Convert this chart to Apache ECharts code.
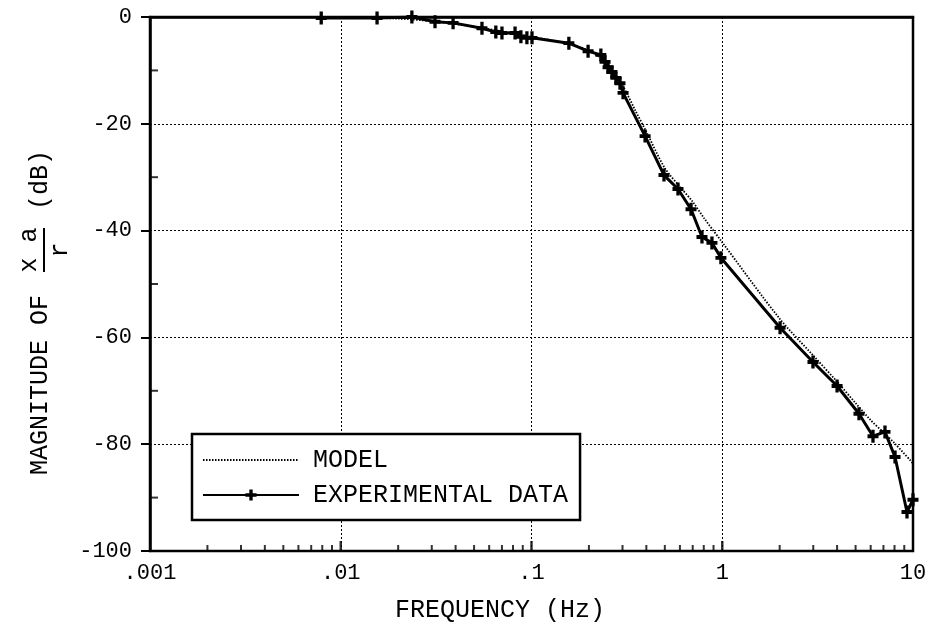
<!DOCTYPE html>
<html>
<head>
<meta charset="utf-8">
<script src="https://cdn.jsdelivr.net/npm/echarts@6/dist/echarts.min.js"></script>
<style>html,body{margin:0;padding:0;background:#fff}#c{width:938px;height:638px}</style>
</head>
<body>
<div id="c"></div>
<script>
// ---- data ----
const xTickLabels = ['.001', '.01', '.1', '1', '10'];
const yTicks = [0, -20, -40, -60, -80, -100];

const freqExp = [0.0079, 0.0155, 0.0236, 0.0312, 0.0388, 0.055, 0.065, 0.070, 0.082, 0.088, 0.0946, 0.1006,
  0.157, 0.198, 0.231, 0.243, 0.252, 0.264, 0.277, 0.291, 0.302, 0.394, 0.495, 0.586, 0.686, 0.783, 0.883,
  0.984, 2.01, 2.99, 4.0, 5.21, 6.17, 7.13, 8.05, 9.3, 10];
const magExp = [-0.2, -0.2, 0, -0.9, -1.1, -2.1, -2.8, -3.0, -3.0, -3.7, -3.9, -3.9,
  -4.9, -6.4, -7.1, -8.4, -9.4, -10.3, -11.4, -12.4, -14.2, -22.3, -29.6, -32.2, -36.0, -41.2, -42.3,
  -45.1, -58.2, -64.6, -69.1, -74.3, -78.5, -77.7, -82.4, -92.7, -90.4];

const freqModel = [0.0078, 0.02, 0.03, 0.05, 0.07, 0.1, 0.15, 0.2, 0.25, 0.3, 0.35, 0.4, 0.5, 0.6, 0.7, 0.8, 1,
  2, 3, 4, 5, 6, 7, 8, 10];
const magModel = [0, -0.3, -0.8, -1.8, -2.7, -3.7, -4.9, -6.3, -8.8, -12.8, -17.5, -21.5, -28.3, -31.8, -34.6,
  -37.6, -42.2, -56.5, -63.4, -68.3, -72.3, -75.5, -77.8, -79.8, -83.6];

const xMinorTicks = [2, 3, 4, 5, 6, 7, 8, 9];
const xDecades = [0.001, 0.01, 0.1, 1];
const yMinorTicks = [-10, -30, -50, -70, -90];

// ---- build ----
const FONT = '"Liberation Mono", "DejaVu Sans Mono", monospace';
const expData = freqExp.map((f, i) => [f, magExp[i]]);
const modelData = freqModel.map((f, i) => [f, magModel[i]]);
const xMinorData = [];
xDecades.forEach(d => xMinorTicks.forEach(m => xMinorData.push([d * m, -100])));
const yMinorData = yMinorTicks.map(v => [0.001, v]);
const xMajorData = xDecades.slice(1).map(d => [d, -100]);

const plusPath = 'path://M3.5,0 L6.5,0 L6.5,3.5 L10,3.5 L10,6.5 L6.5,6.5 L6.5,10 L3.5,10 L3.5,6.5 L0,6.5 L0,3.5 L3.5,3.5 Z';

const chart = echarts.init(document.getElementById('c'), null, { renderer: 'canvas' });
chart.setOption({
  animation: false,
  backgroundColor: '#fff',
  grid: { left: 150, right: 25, top: 17, bottom: 87, show: true, borderColor: '#000', borderWidth: 2.5, backgroundColor: 'transparent' },
  xAxis: {
    type: 'log', logBase: 10, min: 0.001, max: 10,
    axisLine: { lineStyle: { color: '#000', width: 2.5 } },
    axisTick: { show: false },
    axisLabel: {
      color: '#000', fontFamily: FONT, fontSize: 22, margin: 11,
      formatter: v => xTickLabels[Math.round(Math.log10(v)) + 3]
    },
    splitLine: { show: true, lineStyle: { color: '#000', type: [2, 2], width: 1 } }
  },
  yAxis: {
    type: 'value', min: -100, max: 0, interval: 20,
    axisLine: { show: true, lineStyle: { color: '#000', width: 2.5 } },
    axisTick: { show: true, inside: false, length: 9, lineStyle: { color: '#000', width: 2 } },
    axisLabel: { color: '#000', fontFamily: FONT, fontSize: 22, margin: 18,
      formatter: v => String(v) },
    splitLine: { show: true, lineStyle: { color: '#000', type: [2, 2], width: 1 } }
  },
  legend: {
    data: [{ name: 'MODEL', itemStyle: { opacity: 0 } }, { name: 'EXPERIMENTAL DATA' }],
    orient: 'vertical', left: 192, top: 434,
    backgroundColor: '#fff', borderColor: '#000', borderWidth: 2.5, borderRadius: 0,
    padding: [12, 12, 11, 10], itemWidth: 96, itemHeight: 14, itemGap: 7,
    textStyle: { color: '#000', fontFamily: FONT, fontSize: 25, lineHeight: 28, padding: [0, 0, 0, 9] },
    z: 10
  },
  graphic: [
    { type: 'text', x: 500, y: 610,
      style: { text: 'FREQUENCY (Hz)', font: '25px ' + FONT, align: 'center', verticalAlign: 'middle', fill: '#000' } },
    { type: 'text', x: 40, y: 385, rotation: Math.PI / 2,
      style: { text: 'MAGNITUDE OF', font: '25px ' + FONT, align: 'center', verticalAlign: 'middle', fill: '#000' } },
    { type: 'line', shape: { x1: 44, y1: 272, x2: 44, y2: 228 }, style: { stroke: '#000', lineWidth: 2 } },
    { type: 'text', x: 29, y: 250, rotation: Math.PI / 2,
      style: { text: 'x a', font: '25px ' + FONT, align: 'center', verticalAlign: 'middle', fill: '#000' } },
    { type: 'text', x: 60, y: 250, rotation: Math.PI / 2,
      style: { text: 'r', font: '25px ' + FONT, align: 'center', verticalAlign: 'middle', fill: '#000' } },
    { type: 'text', x: 40, y: 180, rotation: Math.PI / 2,
      style: { text: '(dB)', font: '25px ' + FONT, align: 'center', verticalAlign: 'middle', fill: '#000' } }
  ],
  series: [
    {
      name: 'EXPERIMENTAL DATA', type: 'line', data: expData,
      symbol: plusPath, symbolSize: [11, 13], showAllSymbol: true,
      lineStyle: { color: '#000', width: 3 }, itemStyle: { color: '#000' },
      z: 3
    },
    {
      name: 'MODEL', type: 'line', data: modelData, showSymbol: false, symbol: 'circle', symbolSize: 0, smooth: 0.3,
      lineStyle: { color: '#000', width: 1.8, type: [1.5, 1.5] }, itemStyle: { color: '#000' },
      z: 4
    },
    { name: 'xminor', type: 'scatter', data: xMinorData, symbol: 'rect', symbolSize: [2, 6], symbolOffset: [0, -3],
      itemStyle: { color: '#000' }, clip: false, silent: true, z: 5 },
    { name: 'xmajor', type: 'scatter', data: xMajorData, symbol: 'rect', symbolSize: [2.5, 10], symbolOffset: [0, -5],
      itemStyle: { color: '#000' }, clip: false, silent: true, z: 5 },
    { name: 'yminor', type: 'scatter', data: yMinorData, symbol: 'rect', symbolSize: [8, 2], symbolOffset: [4, 0],
      itemStyle: { color: '#000' }, clip: false, silent: true, z: 5 }
  ]
});
</script>
</body>
</html>
